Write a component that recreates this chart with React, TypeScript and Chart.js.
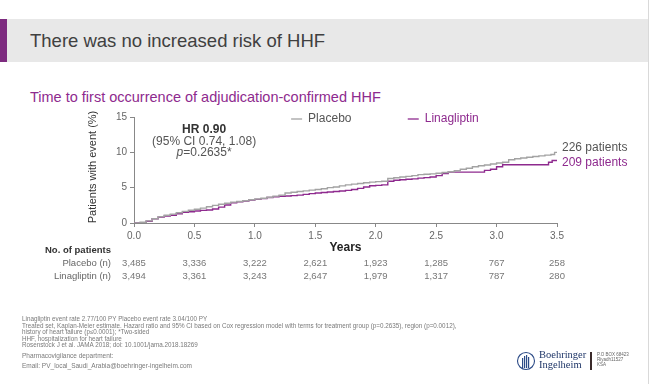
import React, { useEffect, useRef } from "react";
import { Chart, registerables } from "chart.js";

Chart.register(...registerables);

const FONT = '"Liberation Sans", Arial, Helvetica, sans-serif';

// ---- data ----
const SLIDE_TITLE = "There was no increased risk of HHF";
const CHART_TITLE = "Time to first occurrence of adjudication-confirmed HHF";
const Y_TITLE = "Patients with event (%)";
const X_TITLE = "Years";
const SERIES_NAMES = ["Placebo", "Linagliptin"];
const END_LABELS = ["226 patients", "209 patients"];
const HR_LINES = ["HR 0.90", "(95% CI 0.74, 1.08)", "=0.2635*"];

const placeboTimes = [0, 0.05, 0.1, 0.15, 0.2, 0.25, 0.3, 0.35, 0.4, 0.45, 0.5, 0.55, 0.6, 0.65, 0.7, 0.75, 0.8, 0.85, 0.9, 0.95, 1.0, 1.05, 1.1, 1.15, 1.2, 1.25, 1.3, 1.35, 1.4, 1.45, 1.5, 1.55, 1.6, 1.65, 1.7, 1.75, 1.8, 1.85, 1.9, 1.95, 2.0, 2.05, 2.1, 2.15, 2.2, 2.25, 2.3, 2.35, 2.4, 2.45, 2.5, 2.55, 2.6, 2.65, 2.7, 2.75, 2.8, 2.85, 2.9, 2.95, 3.0, 3.05, 3.1, 3.15, 3.2, 3.25, 3.3, 3.35, 3.4, 3.45, 3.48, 3.5];
const placeboValues = [0, 0.1, 0.3, 0.6, 0.9, 1.1, 1.25, 1.45, 1.65, 1.8, 1.95, 2.1, 2.3, 2.5, 2.65, 2.8, 2.95, 3.05, 3.15, 3.3, 3.4, 3.5, 3.65, 3.8, 3.95, 4.25, 4.35, 4.45, 4.55, 4.65, 4.75, 4.85, 5.0, 5.1, 5.25, 5.4, 5.5, 5.6, 5.7, 5.78, 5.85, 5.9, 6.3, 6.4, 6.5, 6.6, 6.7, 6.85, 6.9, 6.95, 7.05, 7.15, 7.25, 7.4, 7.6, 7.75, 7.95, 8.1, 8.2, 8.35, 8.5, 8.6, 8.95, 9.1, 9.2, 9.3, 9.4, 9.5, 9.6, 9.7, 10.0, 10.0];

const linaTimes = [0, 0.05, 0.1, 0.15, 0.2, 0.25, 0.3, 0.35, 0.4, 0.45, 0.5, 0.55, 0.6, 0.65, 0.7, 0.75, 0.8, 0.85, 0.9, 0.95, 1.0, 1.05, 1.1, 1.15, 1.2, 1.25, 1.3, 1.35, 1.4, 1.45, 1.5, 1.55, 1.6, 1.65, 1.7, 1.75, 1.8, 1.85, 1.9, 1.95, 2.0, 2.05, 2.1, 2.15, 2.2, 2.25, 2.3, 2.35, 2.4, 2.45, 2.5, 2.55, 2.6, 2.85, 2.9, 2.95, 3.0, 3.05, 3.4, 3.43, 3.46, 3.5];
const linaValues = [0, 0.05, 0.25, 0.6, 0.85, 1.0, 1.1, 1.3, 1.5, 1.6, 1.7, 1.78, 1.85, 1.98, 2.25, 2.55, 2.85, 3.0, 3.1, 3.25, 3.35, 3.45, 3.6, 3.7, 3.78, 3.82, 3.88, 3.95, 4.05, 4.15, 4.25, 4.32, 4.38, 4.45, 4.52, 4.62, 4.75, 4.9, 5.1, 5.28, 5.33, 5.4, 5.9, 6.05, 6.12, 6.2, 6.25, 6.35, 6.42, 6.5, 6.7, 7.0, 7.2, 7.2, 7.45, 7.6, 7.95, 8.25, 8.25, 8.6, 8.85, 8.85];

const riskTimes = [0, 0.5, 1.0, 1.5, 2.0, 2.5, 3.0, 3.5];
const riskPlacebo = ["3,485", "3,336", "3,222", "2,621", "1,923", "1,285", "767", "258"];
const riskLina = ["3,494", "3,361", "3,243", "2,647", "1,979", "1,317", "787", "280"];
const RISK_HEADER = "No. of patients";
const RISK_ROWS = ["Placebo (n)", "Linagliptin (n)"];

const FOOTNOTES = [
  "Linagliptin event rate 2.77/100 PY Placebo event rate 3.04/100 PY",
  "Treated set, Kaplan-Meier estimate. Hazard ratio and 95% CI based on Cox regression model with terms for treatment group (p=0.2635), region (p=0.0012),",
  "history of heart failure (p\u22640.0001); *Two-sided",
  "HHF, hospitalization for heart failure",
  "Rosenstock J et al. JAMA 2018; doi: 10.1001/jama.2018.18269",
];
const CONTACT = ["Pharmacovigilance department:", "Email: PV_local_Saudi_Arabia@boehringer-ingelheim.com"];
const ADDRESS = ["P.O BOX 68423", "Riyadh11527", "KSA"];

const GREY = "#a3a3a3";
const PURPLE = "#8e2a8e";

const overlayPlugin = {
  id: "overlay",
  afterDraw(chart: any) {
    const { ctx, chartArea: ca } = chart;
    const x = chart.scales.x;
    const y = chart.scales.y;
    ctx.save();
    ctx.textBaseline = "middle";

    // y-axis title
    ctx.save();
    ctx.translate(ca.left - 41, (ca.top + ca.bottom) / 2 - 3);
    ctx.rotate(-Math.PI / 2);
    ctx.font = `11px ${FONT}`;
    ctx.fillStyle = "#333";
    ctx.textAlign = "center";
    ctx.fillText(Y_TITLE, 0, 0);
    ctx.restore();

    // x-axis title
    ctx.font = `bold 12px ${FONT}`;
    ctx.fillStyle = "#222";
    ctx.textAlign = "center";
    ctx.fillText(X_TITLE, (ca.left + ca.right) / 2, ca.bottom + 25);

    // legend
    const legendY = ca.top + 2;
    const legendStarts = [x.getPixelForValue(1.3), x.getPixelForValue(2.265)];
    const colors = [GREY, PURPLE];
    const textColors = ["#555", PURPLE];
    SERIES_NAMES.forEach((name, i) => {
      const sx = legendStarts[i];
      ctx.strokeStyle = colors[i];
      ctx.lineWidth = 1.3;
      ctx.beginPath();
      ctx.moveTo(sx, legendY);
      ctx.lineTo(sx + 11, legendY);
      ctx.stroke();
      ctx.font = `12px ${FONT}`;
      ctx.fillStyle = textColors[i];
      ctx.textAlign = "left";
      ctx.fillText(name, sx + 17, legendY);
    });

    // HR annotation
    const hx = x.getPixelForValue(0.58);
    ctx.textAlign = "center";
    ctx.fillStyle = "#333";
    ctx.font = `bold 12px ${FONT}`;
    ctx.fillText(HR_LINES[0], hx, ca.top + 13);
    ctx.font = `12px ${FONT}`;
    ctx.fillStyle = "#555";
    ctx.fillText(HR_LINES[1], hx, ca.top + 24.5);
    ctx.font = `italic 12px ${FONT}`;
    const pw = ctx.measureText("p").width;
    ctx.font = `12px ${FONT}`;
    const rw = ctx.measureText(HR_LINES[2]).width;
    const startX = hx - (pw + rw) / 2;
    ctx.textAlign = "left";
    ctx.font = `italic 12px ${FONT}`;
    ctx.fillText("p", startX, ca.top + 36);
    ctx.font = `12px ${FONT}`;
    ctx.fillText(HR_LINES[2], startX + pw, ca.top + 36);

    // end labels
    ctx.font = `12px ${FONT}`;
    ctx.textAlign = "left";
    ctx.fillStyle = "#555";
    ctx.fillText(END_LABELS[0], ca.right + 5, y.getPixelForValue(placeboValues[placeboValues.length - 1]) - 4.5);
    ctx.fillStyle = PURPLE;
    ctx.fillText(END_LABELS[1], ca.right + 5, y.getPixelForValue(linaValues[linaValues.length - 1]) + 2.3);

    // risk table
    ctx.font = `bold 9.5px ${FONT}`;
    ctx.fillStyle = "#333";
    ctx.textAlign = "left";
    ctx.fillText(RISK_HEADER, ca.left - 89, ca.bottom + 27);
    ctx.font = `9.5px ${FONT}`;
    ctx.fillStyle = "#666";
    ctx.textAlign = "right";
    ctx.fillText(RISK_ROWS[0], ca.left - 23, ca.bottom + 40);
    ctx.fillText(RISK_ROWS[1], ca.left - 23, ca.bottom + 53);
    ctx.textAlign = "center";
    ctx.fillStyle = "#777";
    riskTimes.forEach((t, i) => {
      const px = x.getPixelForValue(t);
      ctx.fillText(riskPlacebo[i], px, ca.bottom + 40);
      ctx.fillText(riskLina[i], px, ca.bottom + 53);
    });

    ctx.restore();
  },
};

function KMChart() {
  const ref = useRef<HTMLCanvasElement | null>(null);
  useEffect(() => {
    if (!ref.current) return;
    Chart.defaults.font.family = FONT;
    const chart = new Chart(ref.current, {
      type: "line",
      data: {
        datasets: [
          {
            label: SERIES_NAMES[0],
            data: placeboTimes.map((t, i) => ({ x: t, y: placeboValues[i] })),
            borderColor: GREY,
            borderWidth: 1.4,
            pointRadius: 0,
            stepped: true,
            fill: false,
          },
          {
            label: SERIES_NAMES[1],
            data: linaTimes.map((t, i) => ({ x: t, y: linaValues[i] })),
            borderColor: PURPLE,
            borderWidth: 1.4,
            pointRadius: 0,
            stepped: true,
            fill: false,
          },
        ],
      },
      options: {
        animation: false,
        responsive: false,
        layout: { padding: { left: 94, top: 117, right: 93, bottom: 131 } },
        plugins: { legend: { display: false }, tooltip: { enabled: false } },
        scales: {
          x: {
            type: "linear",
            min: 0,
            max: 3.5,
            ticks: {
              stepSize: 0.5,
              autoSkip: false,
              maxRotation: 0,
              padding: 3,
              color: "#666",
              font: { size: 10, family: FONT },
              callback: (v: any) => Number(v).toFixed(1),
            },
            grid: { display: true, drawOnChartArea: false, drawTicks: true, tickLength: 4, color: "#888" },
            border: { display: true, color: "#888" },
            afterFit: (s: any) => {
              s.height = 30;
            },
          },
          y: {
            min: 0,
            max: 15,
            ticks: {
              stepSize: 5,
              padding: 3,
              color: "#666",
              font: { size: 10, family: FONT },
            },
            grid: { display: true, drawOnChartArea: false, drawTicks: true, tickLength: 4, color: "#888" },
            border: { display: true, color: "#888" },
            afterFit: (s: any) => {
              s.width = 40;
            },
          },
        },
      },
      plugins: [overlayPlugin],
    } as any);
    return () => chart.destroy();
  }, []);
  return <canvas ref={ref} width={650} height={384} style={{ position: "absolute", left: 0, top: 0 }} />;
}

export default function App() {
  return (
    <div
      style={{
        position: "fixed",
        left: 0,
        top: 0,
        width: 650,
        height: 384,
        background: "#fff",
        overflow: "hidden",
        fontFamily: FONT,
      }}
    >
      <div style={{ position: "absolute", left: 0, top: 19, width: 648, height: 43, background: "#e8e8e8" }} />
      <div style={{ position: "absolute", left: 0, top: 19, width: 7, height: 43, background: "#7d2b7f" }} />
      <div style={{ position: "absolute", left: 648, top: 0, width: 1, height: 384, background: "#d9d9d9" }} />
      <div
        style={{
          position: "absolute",
          left: 30,
          top: 19,
          height: 43,
          lineHeight: "43px",
          fontSize: 18.5,
          color: "#404040",
          whiteSpace: "nowrap",
        }}
      >
        {SLIDE_TITLE}
      </div>
      <div
        style={{
          position: "absolute",
          left: 30,
          top: 88,
          lineHeight: "18px",
          fontSize: 14.5,
          color: PURPLE,
          whiteSpace: "nowrap",
        }}
      >
        {CHART_TITLE}
      </div>
      <KMChart />
      <div
        style={{
          position: "absolute",
          left: 22,
          top: 316,
          fontSize: 6.3,
          lineHeight: "6.6px",
          color: "#7a7a7a",
          whiteSpace: "nowrap",
        }}
      >
        {FOOTNOTES.map((l, i) => (
          <div key={i}>{l}</div>
        ))}
      </div>
      <div
        style={{
          position: "absolute",
          left: 22,
          top: 351,
          fontSize: 6.5,
          lineHeight: "9.6px",
          color: "#7a7a7a",
          whiteSpace: "nowrap",
        }}
      >
        {CONTACT.map((l, i) => (
          <div key={i}>{l}</div>
        ))}
      </div>
      <svg style={{ position: "absolute", left: 515, top: 351 }} width={22} height={22} viewBox="0 0 22 22">
        <circle cx={11} cy={10} r={8.5} fill="none" stroke="#2b4a86" strokeWidth={1.1} />
        <rect x={7} y={7} width={1.2} height={10} fill="#2b4a86" />
        <rect x={9} y={5} width={1.2} height={12} fill="#2b4a86" />
        <rect x={11} y={4} width={1.2} height={13} fill="#2b4a86" />
        <rect x={13} y={6} width={1.2} height={11} fill="#2b4a86" />
      </svg>
      <div
        style={{
          position: "absolute",
          left: 539,
          top: 350,
          fontFamily: '"Liberation Serif", "DejaVu Serif", serif',
          fontSize: 10.5,
          lineHeight: "9.5px",
          color: "#1f3668",
          whiteSpace: "nowrap",
        }}
      >
        <div>Boehringer</div>
        <div>Ingelheim</div>
      </div>
      <div style={{ position: "absolute", left: 590, top: 352, width: 1.5, height: 18, background: "#3a2a2a" }} />
      <div
        style={{
          position: "absolute",
          left: 597,
          top: 352,
          fontSize: 4.5,
          lineHeight: "5px",
          color: "#666",
          whiteSpace: "nowrap",
        }}
      >
        {ADDRESS.map((l, i) => (
          <div key={i}>{l}</div>
        ))}
      </div>
    </div>
  );
}
